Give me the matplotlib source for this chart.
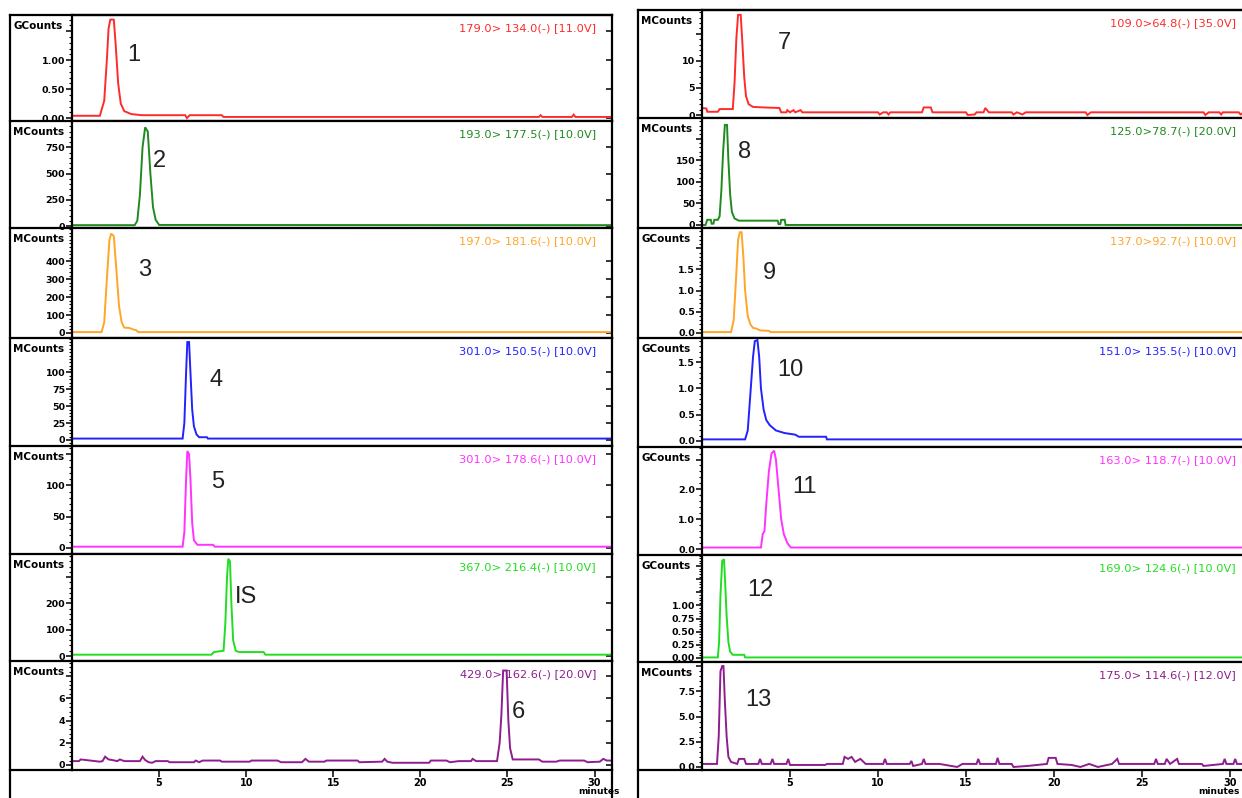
import matplotlib
matplotlib.use("Agg")
import matplotlib.pyplot as plt
from matplotlib.lines import Line2D
from matplotlib import font_manager

# ---------------- data (time [min], intensity) ----------------
trace_1 = [(0, 0.04), (1.6, 0.04), (1.85, 0.3), (2.0, 1.0), (2.1, 1.55), (2.2, 1.7), (2.4, 1.7),
           (2.5, 1.3), (2.65, 0.6), (2.8, 0.25), (3.0, 0.12), (3.4, 0.07), (4.0, 0.05), (6.5, 0.05),
           (6.6, 0.0), (6.75, 0.05), (8.6, 0.05), (8.7, 0.02), (26.8, 0.02), (26.9, 0.05), (27.0, 0.02),
           (28.7, 0.02), (28.8, 0.06), (28.9, 0.02), (31, 0.02)]
trace_2 = [(0, 8), (3.6, 8), (3.75, 50), (3.9, 300), (4.05, 750), (4.2, 940), (4.35, 900),
           (4.5, 500), (4.65, 180), (4.8, 60), (5.0, 10), (31, 8)]
trace_3 = [(0, 5), (1.7, 5), (1.85, 60), (2.0, 300), (2.15, 520), (2.25, 555), (2.4, 540),
           (2.55, 350), (2.7, 150), (2.85, 60), (3.0, 30), (3.3, 28), (3.5, 20), (3.7, 15),
           (3.8, 5), (31, 5)]
trace_4 = [(0, 2), (6.35, 2), (6.45, 25), (6.55, 100), (6.62, 145), (6.72, 145), (6.8, 100),
           (6.9, 45), (7.0, 20), (7.15, 8), (7.3, 4), (7.75, 4), (7.8, 2), (31, 2)]
trace_5 = [(0, 2), (6.35, 2), (6.45, 25), (6.55, 110), (6.62, 155), (6.72, 150), (6.8, 110),
           (6.9, 40), (7.0, 12), (7.2, 5), (8.1, 5), (8.2, 2), (31, 2)]
trace_IS = [(0, 5), (8.0, 5), (8.15, 15), (8.7, 20), (8.8, 120), (8.9, 300), (8.97, 370),
            (9.07, 360), (9.15, 200), (9.25, 60), (9.4, 20), (9.6, 15), (11.0, 15), (11.1, 5), (31, 5)]
trace_6 = [(0, 0.35), (0.4, 0.35), (0.5, 0.5), (1.6, 0.3), (1.75, 0.35), (1.9, 0.75), (2.1, 0.5),
           (2.3, 0.45), (2.6, 0.35), (2.75, 0.5), (3.0, 0.35), (3.9, 0.35), (4.05, 0.75), (4.2, 0.45),
           (4.4, 0.25), (4.6, 0.2), (4.8, 0.35), (5.5, 0.35), (5.6, 0.25), (7.0, 0.25), (7.1, 0.4),
           (7.3, 0.25), (7.5, 0.4), (8.5, 0.4), (8.6, 0.3), (10.2, 0.3), (10.3, 0.4), (11.8, 0.4),
           (12.0, 0.25), (13.2, 0.25), (13.4, 0.55), (13.6, 0.3), (14.5, 0.3), (14.6, 0.4),
           (16.4, 0.4), (16.5, 0.25), (17.8, 0.3), (17.95, 0.55), (18.1, 0.3), (18.4, 0.2),
           (20.5, 0.2), (20.6, 0.4), (21.5, 0.4), (21.7, 0.25), (22.2, 0.35), (22.9, 0.35),
           (23.0, 0.55), (23.2, 0.35), (24.4, 0.35), (24.55, 2.0), (24.65, 4.5), (24.75, 8.5),
           (24.95, 8.5), (25.05, 4.0), (25.15, 1.5), (25.3, 0.5), (26.8, 0.5), (27.0, 0.3),
           (27.8, 0.3), (28.0, 0.4), (29.4, 0.4), (29.6, 0.25), (30.3, 0.3), (30.5, 0.55),
           (30.7, 0.4), (31, 0.4)]
trace_7 = [(0, 1.3), (0.25, 1.2), (0.3, 0.6), (0.9, 0.6), (1.0, 1.1), (1.75, 1.1), (1.85, 6),
           (1.95, 14), (2.05, 18.5), (2.2, 18.5), (2.3, 13), (2.4, 7), (2.5, 3.5), (2.65, 2),
           (2.9, 1.5), (3.5, 1.4), (4.4, 1.3), (4.5, 0.5), (4.8, 0.5), (4.85, 0.9), (5.0, 0.5),
           (5.2, 0.9), (5.3, 0.5), (5.6, 0.9), (5.7, 0.5), (10.0, 0.5), (10.1, 0.1), (10.3, 0.5),
           (10.5, 0.5), (10.6, 0.1), (10.7, 0.5), (12.5, 0.5), (12.6, 1.4), (13.0, 1.4), (13.1, 0.5),
           (15.0, 0.5), (15.1, 0.0), (15.5, 0.1), (15.6, 0.5), (16.0, 0.5), (16.1, 1.3), (16.3, 0.5),
           (17.6, 0.5), (17.7, 0.1), (17.9, 0.5), (18.2, 0.1), (18.4, 0.5), (21.8, 0.5), (21.9, 0.0),
           (22.1, 0.5), (28.5, 0.5), (28.6, 0.0), (28.8, 0.5), (29.4, 0.5), (29.5, 0.1), (29.6, 0.5),
           (30.5, 0.5), (30.6, 0.1), (30.8, 0.5)]
trace_8 = [(0, 0), (0.2, 0), (0.3, 12), (0.5, 12), (0.55, 3), (0.65, 3), (0.7, 12), (0.9, 12),
           (1.0, 20), (1.1, 80), (1.2, 170), (1.3, 232), (1.42, 232), (1.5, 150), (1.6, 70),
           (1.7, 30), (1.85, 15), (2.1, 10), (4.3, 10), (4.35, 2), (4.45, 2), (4.5, 12), (4.7, 12),
           (4.75, 0), (31, 0)]
trace_9 = [(0, 0.02), (1.65, 0.02), (1.8, 0.3), (1.95, 1.4), (2.05, 2.2), (2.15, 2.38), (2.25, 2.38),
           (2.35, 1.8), (2.45, 1.0), (2.6, 0.4), (2.75, 0.2), (2.9, 0.12), (3.1, 0.1), (3.3, 0.06),
           (3.8, 0.05), (3.9, 0.02), (31, 0.02)]
trace_10 = [(0, 0.03), (2.45, 0.03), (2.6, 0.2), (2.75, 0.9), (2.9, 1.6), (3.0, 1.9), (3.15, 1.92),
            (3.25, 1.6), (3.35, 1.0), (3.5, 0.6), (3.65, 0.4), (3.85, 0.3), (4.2, 0.2), (4.7, 0.15),
            (5.3, 0.12), (5.5, 0.08), (7.05, 0.08), (7.1, 0.03), (31, 0.03)]
trace_11 = [(0, 0.05), (3.35, 0.05), (3.45, 0.5), (3.55, 0.6), (3.65, 1.5), (3.8, 2.6), (3.95, 3.2),
            (4.1, 3.3), (4.2, 3.0), (4.35, 2.0), (4.5, 1.0), (4.65, 0.5), (4.85, 0.2), (5.05, 0.05),
            (31, 0.05)]
trace_12 = [(0, 0.01), (0.9, 0.01), (0.97, 0.3), (1.05, 1.2), (1.15, 1.85), (1.25, 1.88), (1.32, 1.4),
            (1.4, 0.8), (1.5, 0.3), (1.6, 0.12), (1.75, 0.06), (2.4, 0.06), (2.45, 0.01), (31, 0.01)]
trace_13 = [(0, 0.3), (0.85, 0.3), (0.95, 3), (1.05, 9.5), (1.15, 10), (1.22, 10), (1.3, 6.5),
            (1.4, 3), (1.5, 1), (1.65, 0.5), (2.0, 0.3), (2.1, 0.8), (2.4, 0.8), (2.5, 0.3),
            (3.2, 0.3), (3.3, 0.8), (3.4, 0.3), (3.9, 0.3), (4.0, 0.8), (4.1, 0.3), (4.8, 0.3),
            (4.9, 0.8), (5.0, 0.2), (7.0, 0.2), (7.1, 0.3), (8.0, 0.3), (8.1, 1.0), (8.3, 0.8),
            (8.5, 1.0), (8.7, 0.5), (9.0, 0.8), (9.3, 0.3), (10.3, 0.3), (10.4, 0.8), (10.5, 0.3),
            (11.8, 0.3), (11.9, 0.6), (12.0, 0.1), (12.5, 0.3), (12.6, 0.8), (12.7, 0.3), (13.5, 0.3),
            (14.5, 0.0), (14.8, 0.3), (15.6, 0.3), (15.7, 0.8), (15.8, 0.3), (16.7, 0.3), (16.8, 0.9),
            (16.9, 0.3), (17.6, 0.3), (17.7, 0.0), (18.5, 0.1), (19.6, 0.3), (19.7, 0.9), (20.1, 0.9),
            (20.2, 0.3), (21.0, 0.2), (21.5, 0.0), (22.0, 0.3), (22.5, 0.0), (23.3, 0.3), (23.6, 0.8),
            (23.7, 0.3), (25.7, 0.3), (25.8, 0.8), (25.9, 0.3), (26.3, 0.3), (26.4, 0.8), (26.6, 0.3),
            (27.0, 0.8), (27.1, 0.3), (28.4, 0.3), (28.5, 0.1), (29.6, 0.3), (29.7, 0.8), (29.8, 0.3),
            (30.2, 0.3), (30.3, 0.8), (30.4, 0.3), (31, 0.3)]

left_traces = [trace_1, trace_2, trace_3, trace_4, trace_5, trace_IS, trace_6]
right_traces = [trace_7, trace_8, trace_9, trace_10, trace_11, trace_12, trace_13]

left_peaks = ["1", "2", "3", "4", "5", "IS", "6"]
right_peaks = ["7", "8", "9", "10", "11", "12", "13"]

left_channels = ["179.0> 134.0(-) [11.0V]", "193.0> 177.5(-) [10.0V]", "197.0> 181.6(-) [10.0V]",
                 "301.0> 150.5(-) [10.0V]", "301.0> 178.6(-) [10.0V]", "367.0> 216.4(-) [10.0V]",
                 "429.0> 162.6(-) [20.0V]"]
right_channels = ["109.0>64.8(-) [35.0V]", "125.0>78.7(-) [20.0V]", "137.0>92.7(-) [10.0V]",
                  "151.0> 135.5(-) [10.0V]", "163.0> 118.7(-) [10.0V]", "169.0> 124.6(-) [10.0V]",
                  "175.0> 114.6(-) [12.0V]"]

left_units = ["GCounts", "MCounts", "MCounts", "MCounts", "MCounts", "MCounts", "MCounts"]
right_units = ["MCounts", "MCounts", "GCounts", "GCounts", "GCounts", "GCounts", "MCounts"]

left_yticks = [[0, 0.5, 1.0, 1.5], [0, 250, 500, 750], [0, 100, 200, 300, 400], [0, 25, 50, 75, 100],
               [0, 50, 100, 150], [0, 100, 200, 300], [0, 2, 4, 6, 8]]
left_ylabels = [["0.00", "0.50", "1.00", ""], ["0", "250", "500", "750"], ["0", "100", "200", "300", "400"],
                ["0", "25", "50", "75", "100"], ["0", "50", "100", ""], ["0", "100", "200", ""],
                ["0", "2", "4", "6", ""]]
right_yticks = [[0, 5, 10, 15], [0, 50, 100, 150, 200], [0, 0.5, 1.0, 1.5, 2.0], [0, 0.5, 1.0, 1.5],
                [0, 1.0, 2.0, 3.0], [0, 0.25, 0.5, 0.75, 1.0, 1.25, 1.5, 1.75], [0, 2.5, 5.0, 7.5, 10.0]]
right_ylabels = [["0", "5", "10", ""], ["0", "50", "100", "150", ""], ["0.0", "0.5", "1.0", "1.5", ""],
                 ["0.0", "0.5", "1.0", "1.5"], ["0.0", "1.0", "2.0", ""],
                 ["0.00", "0.25", "0.50", "0.75", "1.00", "", "", ""], ["0.0", "2.5", "5.0", "7.5", ""]]

left_ylims = [(-0.05, 1.78), (-19, 1000), (-28, 586), (-9, 151), (-9.7, 163), (-19, 388), (-0.45, 9.36)]
right_ylims = [(-0.55, 19.4), (-7, 248), (-0.12, 2.48), (-0.115, 1.96), (-0.2, 3.42), (-0.077, 1.96),
               (-0.3, 10.4)]

x_ticks = [5, 10, 15, 20, 25, 30]

# ---------------- style / layout ----------------
RED, DKGREEN, ORANGE, BLUE = "#ff2b2b", "#1f8a1f", "#ffa528", "#2222ff"
MAGENTA, LTGREEN, PURPLE = "#ff33ff", "#22dd22", "#8e1e8e"
colors = [RED, DKGREEN, ORANGE, BLUE, MAGENTA, LTGREEN, PURPLE]

W, H = 1242, 798
fig = plt.figure(figsize=(W / 100, H / 100), dpi=100)
fig.patch.set_facecolor("white")

names = {f.name for f in font_manager.fontManager.ttflist}
num_font = "Liberation Sans Narrow" if "Liberation Sans Narrow" in names else "Liberation Sans"


def fx(px):
    return px / W


def fy(py):
    return 1 - py / H


columns = [
    dict(box_l=10, ax_l=72, ax_r=612, xmax=31.0, bounds=[15, 121, 228, 338, 446, 554, 661, 770],
         traces=left_traces, peaks=left_peaks, chans=left_channels, units=left_units,
         yticks=left_yticks, ylabels=left_ylabels, ylims=left_ylims, chan_x=596, mirror=True,
         peak_pos=[(134, 55), (159, 161), (145, 270), (216, 380), (218, 482), (246, 597), (518, 712)],
         min_x=578),
    dict(box_l=638, ax_l=702, ax_r=1244, xmax=30.8, bounds=[10, 118, 228, 338, 447, 555, 662, 770],
         traces=right_traces, peaks=right_peaks, chans=right_channels, units=right_units,
         yticks=right_yticks, ylabels=right_ylabels, ylims=right_ylims, chan_x=1236, mirror=False,
         peak_pos=[(784, 43), (745, 152), (769, 273), (790, 370), (804, 487), (760, 590), (758, 700)],
         min_x=1198),
]

LW_FRAME = 1.6
for col in columns:
    b = col["bounds"]
    # outer frame of label area
    fig.add_artist(Line2D([fx(col["box_l"]), fx(col["box_l"])], [fy(b[0]), 0], color="black",
                          lw=LW_FRAME, transform=fig.transFigure, zorder=3))
    fig.add_artist(Line2D([fx(col["box_l"]), fx(min(col["ax_r"], W + 5))], [fy(b[0]), fy(b[0])],
                          color="black", lw=LW_FRAME, transform=fig.transFigure, zorder=3))
    if col["mirror"]:
        fig.add_artist(Line2D([fx(col["ax_r"]), fx(col["ax_r"])], [fy(b[-1]), 0], color="black",
                              lw=LW_FRAME, transform=fig.transFigure, zorder=3))
    for yb in b[1:]:
        fig.add_artist(Line2D([fx(col["box_l"]), fx(col["ax_l"])], [fy(yb), fy(yb)], color="black",
                              lw=LW_FRAME, transform=fig.transFigure, zorder=3))

    n = len(col["traces"])
    for i in range(n):
        top, bot = b[i], b[i + 1]
        ax = fig.add_axes([fx(col["ax_l"]), fy(bot), fx(col["ax_r"]) - fx(col["ax_l"]), fy(top) - fy(bot)],
                          zorder=2)
        t = [p[0] for p in col["traces"][i]]
        v = [p[1] for p in col["traces"][i]]
        ax.plot(t, v, color=colors[i], lw=1.4, solid_joinstyle="miter", clip_on=True)
        ax.set_xlim(0, col["xmax"])
        ax.set_ylim(*col["ylims"][i])
        for s in ax.spines.values():
            s.set_linewidth(LW_FRAME)
        ticks = col["yticks"][i]
        ax.set_yticks(ticks)
        ax.set_yticklabels(col["ylabels"][i], fontsize=6.8, fontweight="bold")
        step = ticks[1] - ticks[0]
        ax.yaxis.set_minor_locator(matplotlib.ticker.MultipleLocator(step / 5))
        ax.tick_params(axis="y", which="major", length=4, width=1.1, pad=1, direction="out")
        ax.tick_params(axis="y", which="minor", length=2.5, width=0.8, direction="out")
        if col["mirror"]:
            sec = ax.secondary_yaxis("right")
            sec.set_yticks(ticks)
            sec.tick_params(direction="in", length=4, width=1.1, labelright=False)
            sec.spines["right"].set_visible(False)
        if i < n - 1:
            ax.set_xticks([])
        else:
            ax.set_xticks(x_ticks)
            ax.set_xticklabels([str(x) for x in x_ticks], fontsize=7, fontweight="bold")
            ax.tick_params(axis="x", length=5, width=1.1, pad=1, direction="out")
        # channel label
        ax.text((col["chan_x"] - col["ax_l"]) / (col["ax_r"] - col["ax_l"]),
                1 - 13 / (bot - top), col["chans"][i], transform=ax.transAxes, ha="right", va="center",
                fontsize=8.2, color=colors[i], zorder=5)
        # units label in label area
        fig.text(fx(col["box_l"] + 3), fy(top + 11), col["units"][i], fontsize=7.5, fontweight="bold",
                 ha="left", va="center", zorder=1)
        # peak number
        px, py = col["peak_pos"][i]
        fig.text(fx(px), fy(py), col["peaks"][i], fontsize=17, family=num_font, ha="center",
                 va="center", color="#222222", zorder=6)
    fig.text(fx(col["min_x"]), fy(792), "minutes", fontsize=6.5, fontweight="bold", ha="left",
             va="center", zorder=6)

fig.savefig("out.png", dpi=100, facecolor="white")
